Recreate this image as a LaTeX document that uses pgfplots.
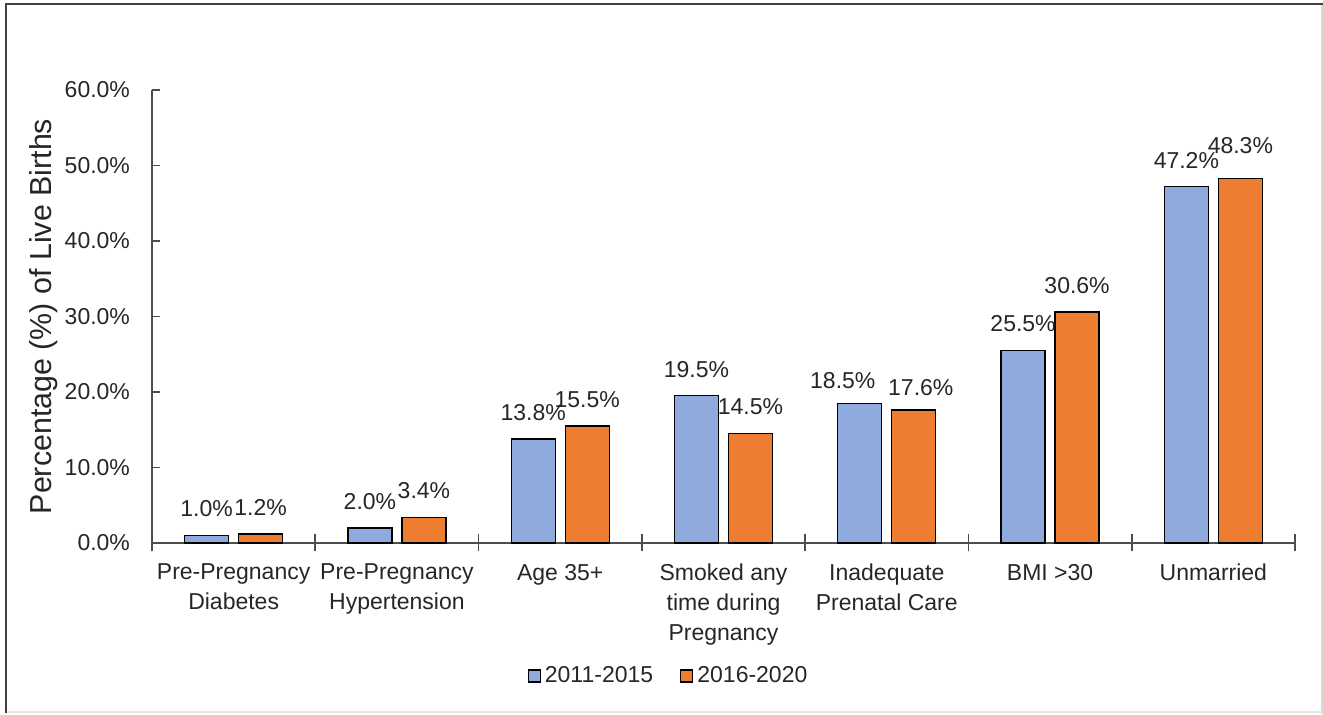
\documentclass[border=0pt]{standalone}
\usepackage{fontspec}
\setmainfont{Liberation Sans}
\usepackage{pgfplots}
\usepackage{pgfplotstable}
\pgfplotsset{compat=1.18}
\definecolor{cblue}{HTML}{8FAADC}
\definecolor{corange}{HTML}{ED7D31}
\definecolor{ctext}{HTML}{262626}
\definecolor{caxis}{HTML}{4D4D4D}
\newcommand{\lbl}{\fontsize{11.5}{15}\selectfont}
\pgfplotstableread{
x y dx dy
0 1.0 0 0
1 2.0 0 0
2 13.8 0 0
3 19.5 0 0
4 18.5 -8.5 -2
5 25.5 0 0
6 47.2 0 0
}\early
\pgfplotstableread{
x y dx dy
0 1.2 0 0
1 3.4 0 0
2 15.5 0 0
3 14.5 0 0
4 17.6 3.5 -2
5 30.6 0 0
6 48.3 0 3
}\late
\begin{document}
\begin{tikzpicture}
\useasboundingbox (0,0) rectangle (661.5pt,357.5pt);
\draw[black!15, line width=0.8pt] (661pt,0.5pt) -- (661pt,355.5pt);
\draw[black!10, line width=0.8pt] (3pt,1.5pt) -- (661pt,1.5pt);
\draw[black!75, line width=1pt] (3pt,1pt) -- (3pt,355.5pt) -- (661.5pt,355.5pt);
\begin{axis}[
  at={(76pt,86pt)}, anchor=south west,
  scale only axis, width=571.5pt, height=226.5pt,
  /pgf/number format/assume math mode=true,
  xmin=-0.5, xmax=6.5, ymin=0, ymax=60,
  axis lines=left,
  axis line style={-, caxis, line width=1pt},
  ybar, bar width=22pt,
  xtick={0,...,6},
  xticklabels={{Pre-Pregnancy\\Diabetes},{Pre-Pregnancy\\Hypertension},{Age 35+},{Smoked any\\time during\\Pregnancy},{Inadequate\\Prenatal Care},{BMI >30},{Unmarried}},
  xticklabel style={align=center, font=\lbl, text=ctext, yshift=-7pt},
  major x tick style={draw=none},
  minor xtick={-0.5,0.5,...,6.5},
  minor tick length=8.5pt,
  minor x tick style={yshift=-4.25pt, caxis, line width=0.8pt},
  ytick={0,10,...,60},
  yticklabel={\pgfmathprintnumber[fixed,fixed zerofill,precision=1]{\tick}\%},
  yticklabel style={font=\lbl, text=ctext, xshift=-7.5pt},
  major tick length=4pt,
  tick align=inside,
  major y tick style={caxis, line width=0.8pt},
  ylabel={Percentage (\%) of Live Births},
  every axis y label/.style={at={(axis description cs:-0.095,0.5)}, rotate=90, anchor=center, font=\fontsize{15.2}{18}\selectfont, text=ctext},
  visualization depends on={\thisrow{dx} \as \dx},
  visualization depends on={\thisrow{dy} \as \dy},
  nodes near coords={\pgfmathprintnumber[fixed,fixed zerofill,precision=1]{\pgfplotspointmeta}\%},
  every node near coord/.append style={font=\lbl, text=ctext, xshift=\dx pt, yshift=5.5pt+\dy pt},
  legend style={at={(axis description cs:0.4528,-0.2936)}, anchor=center, draw=none, fill=none, font=\lbl, text=ctext, legend columns=-1,
    /tikz/every even column/.append style={column sep=11.5pt}},
  legend image code/.code={\draw[#1, draw=black, line width=0.6pt] (0pt,-3pt) rectangle (6pt,3pt);},
  clip=false,
]
\addplot[fill=cblue, draw=black, line width=0.7pt, bar shift=-13.5pt] table[x=x, y=y] {\early};
\addplot[fill=corange, draw=black, line width=0.7pt, bar shift=13.5pt] table[x=x, y=y] {\late};
\legend{2011-2015,2016-2020}
\end{axis}
\end{tikzpicture}
\end{document}
